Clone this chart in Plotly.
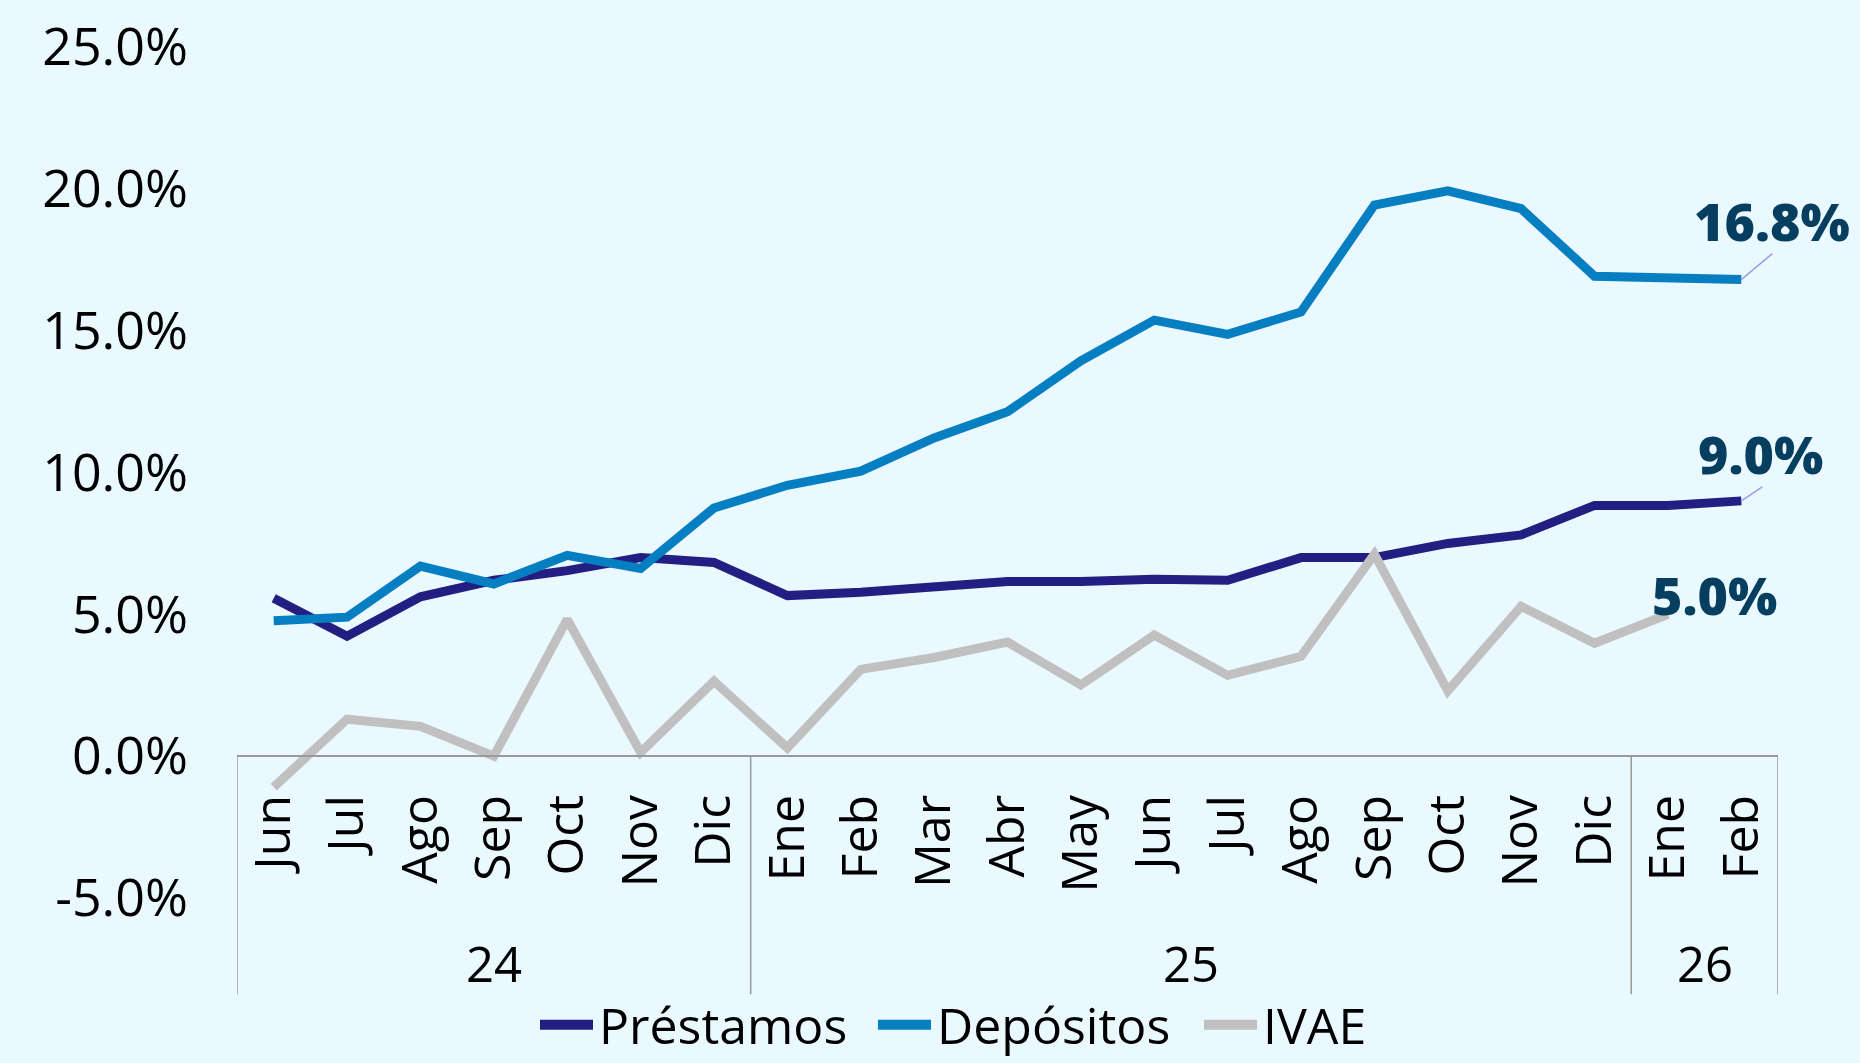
import plotly.graph_objects as go

months = ["Jun", "Jul", "Ago", "Sep", "Oct", "Nov", "Dic",
          "Ene", "Feb", "Mar", "Abr", "May", "Jun", "Jul", "Ago", "Sep", "Oct", "Nov", "Dic",
          "Ene", "Feb"]
years = ["24", "25", "26"]
year_counts = [7, 12, 2]

prestamos = [5.57, 4.23, 5.62, 6.20, 6.54, 7.00, 6.83, 5.66, 5.78, 5.99, 6.16, 6.16,
             6.24, 6.20, 7.00, 7.00, 7.50, 7.80, 8.84, 8.84, 9.00]
depositos = [4.77, 4.90, 6.70, 6.07, 7.08, 6.62, 8.75, 9.55, 10.05, 11.22, 12.14, 13.94,
             15.37, 14.87, 15.66, 19.43, 19.93, 19.30, 16.92, 16.88, 16.80]
ivae = [-1.09, 1.30, 1.05, 0.00, 4.82, 0.13, 2.64, 0.29, 3.06, 3.48, 4.02, 2.51,
        4.27, 2.85, 3.52, 7.12, 2.30, 5.28, 3.98, 5.00]

series_names = ["Préstamos", "Depósitos", "IVAE"]
end_labels = ["9.0%", "16.8%", "5.0%"]

ytick_vals = [-5, 0, 5, 10, 15, 20, 25]
ytick_text = ["-5.0%", "0.0%", "5.0%", "10.0%", "15.0%", "20.0%", "25.0%"]

FONT = "Open Sans"
BG = "#EAF8FF"
C_PRE = "#221E82"
C_DEP = "#067EC2"
C_IVAE = "#C0C0C0"
LBL = "#053E5E"
LEADER = "#9C9CEA"
LW = 9
colors = [C_PRE, C_DEP, C_IVAE]

xs = list(range(len(months)))

fig = go.Figure()
for name, vals, col in zip(series_names, [prestamos, depositos, ivae], colors):
    fig.add_trace(go.Scatter(x=xs[:len(vals)], y=vals, mode="lines", name=name,
                             line=dict(color=col, width=LW), showlegend=False))

# group dividers and year labels
bounds = [-0.5]
for c in year_counts:
    bounds.append(bounds[-1] + c)
for b in bounds:
    fig.add_shape(type="line", xref="x", yref="paper", x0=b, x1=b, y0=1/6, y1=-0.113,
                  line=dict(color="#9A9A9A", width=1.5))
for i, yl in enumerate(years):
    mid = (bounds[i] + bounds[i + 1]) / 2
    fig.add_annotation(x=mid, y=-0.0764, xref="x", yref="paper", text=yl, showarrow=False,
                       font=dict(family=FONT, size=49, color="#000000"),
                       xanchor="center", yanchor="middle")

# legend (drawn manually to match symbol length / spacing)
PL, PW = 237.0, 1541.0
leg_y = -0.149
leg_sym_px = [540, 878, 1204]
for name, col, sx in zip(series_names, colors, leg_sym_px):
    fig.add_shape(type="line", xref="paper", yref="paper",
                  x0=(sx - PL) / PW, x1=(sx + 53 - PL) / PW, y0=leg_y, y1=leg_y,
                  line=dict(color=col, width=10))
    fig.add_annotation(x=(sx + 58 - PL) / PW, y=leg_y, xref="paper", yref="paper",
                       text=name, showarrow=False, xanchor="left", yanchor="middle",
                       borderpad=0,
                       font=dict(family=FONT, size=50, color="#000000"))

# end labels with leader lines
lblfont = dict(family=FONT, size=52, color=LBL, weight=800)
last_pts = [(len(prestamos) - 1, prestamos[-1]),
            (len(depositos) - 1, depositos[-1]),
            (len(ivae) - 1, ivae[-1])]
text_shift = [(19, 47), (31, 59), (47, 20)]
leader_end = [(21, 14), (31, 26), None]
for (px, py), txt, (sx, sy), le in zip(last_pts, end_labels, text_shift, leader_end):
    if le is not None:
        fig.add_shape(type="line", xref="x", yref="y", xsizemode="pixel", ysizemode="pixel",
                      xanchor=px, yanchor=py, x0=0, y0=0, x1=le[0], y1=le[1],
                      line=dict(color=LEADER, width=1.5))
    fig.add_annotation(x=px, y=py, xref="x", yref="y", text=txt, showarrow=False,
                       xshift=sx, yshift=sy, font=lblfont)

fig.update_layout(
    width=1860, height=1063,
    margin=dict(l=237, r=82, t=47, b=165, autoexpand=False),
    paper_bgcolor=BG, plot_bgcolor=BG,
    font=dict(family=FONT, size=50, color="#000000"),
    showlegend=False,
    xaxis=dict(range=[-0.5, 20.5], tickvals=xs, ticktext=months, tickangle=-90,
               showgrid=False, zeroline=False, showline=True, linecolor="#9A9A9A",
               linewidth=1.5, ticks="", anchor="free", position=1/6,
               ticklabelstandoff=18, automargin=False,
               tickfont=dict(family=FONT, size=50, color="#000000")),
    yaxis=dict(range=[-5, 25], tickvals=ytick_vals, ticktext=ytick_text,
               showgrid=False, zeroline=False, showline=False, ticks="",
               ticklabelstandoff=48, automargin=False,
               tickfont=dict(family=FONT, size=52, color="#000000")),
)

fig.write_html("out.html", config={"displayModeBar": False},
               post_script="document.body.style.margin='0';document.body.style.background='%s';" % BG)
